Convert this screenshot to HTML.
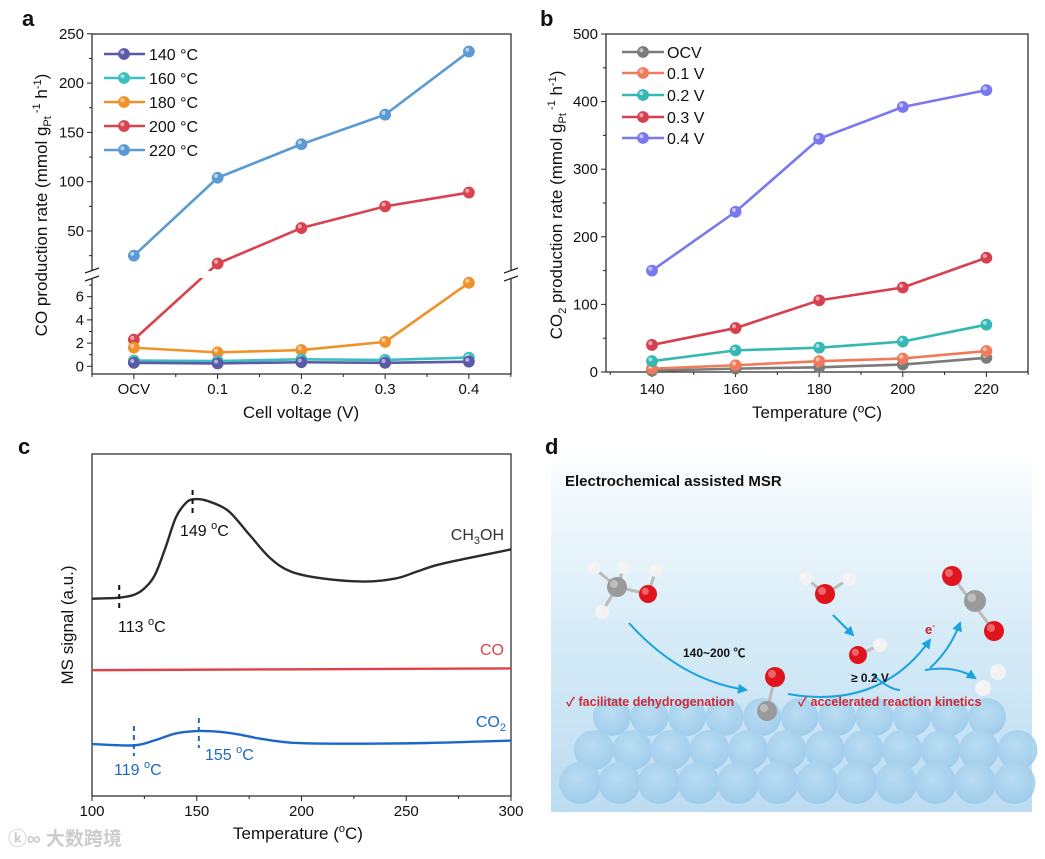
<!DOCTYPE html>
<html><head><meta charset="utf-8"><style>
body{margin:0;background:#fff}
svg{display:block;font-family:"Liberation Sans","Noto Sans CJK SC",sans-serif}
</style></head><body>
<svg id="fig" width="1045" height="859" viewBox="0 0 1045 859" xmlns="http://www.w3.org/2000/svg">
<defs>
<linearGradient id="bgd" x1="0" y1="0" x2="0" y2="1"><stop offset="0" stop-color="#fbfdfe"/><stop offset="0.5" stop-color="#d6ebf7"/><stop offset="1" stop-color="#bcdcf1"/></linearGradient>
<radialGradient id="ball" cx="0.45" cy="0.4" r="0.65"><stop offset="0" stop-color="#b8dcf3"/><stop offset="0.8" stop-color="#9fcdec"/><stop offset="1" stop-color="#93c6e9"/></radialGradient>
<marker id="arr" viewBox="0 0 10 10" refX="8" refY="5" markerWidth="5" markerHeight="5" orient="auto"><path d="M0,0L10,5L0,10z" fill="#1aa3dc"/></marker>
</defs>
<g id="pa"></g>
<g id="pb"></g>
<g id="pc"></g>
<g id="pd"></g>
</svg>
<script>
// ---- Panel a data ----
const aCats = ["OCV","0.1","0.2","0.3","0.4"];
const aSeriesNames = ["140 °C","160 °C","180 °C","200 °C","220 °C"];
const a140 = [0.3,0.25,0.35,0.3,0.4];
const a160 = [0.5,0.45,0.6,0.55,0.75];
const a180 = [1.6,1.2,1.4,2.1,7.2];
const a200 = [2.3,17,53,75,89];
const a220 = [25,104,138,168,232];
const aUpperTicks = [50,100,150,200,250];
const aLowerTicks = [0,2,4,6];
// ---- Panel b data ----
const bTemps = [140,160,180,200,220];
const bSeriesNames = ["OCV","0.1 V","0.2 V","0.3 V","0.4 V"];
const bOCV = [2,5,7,11,21];
const b01 = [5,10,16,20,31];
const b02 = [16,32,36,45,70];
const b03 = [40,65,106,125,169];
const b04 = [150,237,345,392,417];
const bYTicks = [0,100,200,300,400,500];
const bXTicks = [140,160,180,200,220];
// ---- Panel c data ----
const cMeOHT = [100,113,120,125,130,135,140,145,149,155,165,175,185,195,210,230,245,255,265,280,300];
const cMeOH = [57.7,58.0,58.8,60.7,64.6,72.5,81.4,85.8,86.8,86.3,83.4,76.5,69.6,65.6,63.6,62.7,63.6,65.6,67.6,69.6,72.1];
const cCOT = [100,300];
const cCO = [36.8,37.3];
const cCO2T = [100,120,130,140,150,160,170,180,195,220,260,300];
const cCO2 = [15.2,14.8,16.3,18.3,19.0,18.8,18.0,16.8,15.6,15.3,15.5,16.2];
const cXTicks = [100,150,200,250,300];

const NS="http://www.w3.org/2000/svg";
function mk(parent,tag,attrs,text){const e=document.createElementNS(NS,tag);for(const k in attrs)e.setAttribute(k,attrs[k]);if(text!==undefined)e.textContent=text;parent.appendChild(e);return e;}
function marker(g,x,y,c){
  const m=mk(g,'circle',{cx:x,cy:y,r:5.5,fill:c,stroke:c,'stroke-width':0.8});
  
  
  const h=mk(g,'circle',{cx:x-1.6,cy:y-1.8,r:2,fill:'#fff','fill-opacity':0.55});
  
  
}
function txt(g,x,y,s,opt){opt=opt||{};return mk(g,'text',Object.assign({x:x,y:y,'font-size':15,fill:'#111'},opt),s);}

// ================= PANEL A =================
(function(){
const g=document.getElementById('pa');
const L=92,R=511,T=34,B=374;
const xa=i=>L+(i+0.5)*83.75;
const ya=v=> v<=8 ? 366.3-v*11.6 : 231-(v-50)*0.986;
const lbl=txt(g,22,26,'a',{'font-size':22,'font-weight':'bold'});

const fr=mk(g,'rect',{x:L,y:T,width:R-L,height:B-T,fill:'none',stroke:'#222','stroke-width':1.2});

aUpperTicks.forEach(v=>{mk(g,'line',{x1:L-5,x2:L,y1:ya(v),y2:ya(v),stroke:'#222'});
  const t=txt(g,L-8,ya(v)+5,String(v),{'text-anchor':'end'});
  if(v<250)mk(g,'line',{x1:L-3,x2:L,y1:ya(v+25),y2:ya(v+25),stroke:'#222'});});
mk(g,'line',{x1:L-3,x2:L,y1:ya(25),y2:ya(25),stroke:'#222'});
aLowerTicks.forEach(v=>{mk(g,'line',{x1:L-5,x2:L,y1:ya(v),y2:ya(v),stroke:'#222'});
  const t=txt(g,L-8,ya(v)+5,String(v),{'text-anchor':'end'});
  mk(g,'line',{x1:L-3,x2:L,y1:ya(v+1),y2:ya(v+1),stroke:'#222'});});
aCats.forEach((c,i)=>{mk(g,'line',{x1:xa(i),x2:xa(i),y1:B,y2:B+5,stroke:'#222'});
  mk(g,'line',{x1:xa(i)+41.9,x2:xa(i)+41.9,y1:B,y2:B+3,stroke:'#222'});
  const t=txt(g,xa(i),B+20,c,{'text-anchor':'middle'});});
mk(g,'line',{x1:xa(0)-41.9,x2:xa(0)-41.9,y1:B,y2:B+3,stroke:'#222'});
const series=[a140,a160,a180,a200,a220];const cols=['#5b5aa6','#3cbfc0','#f0922c','#d8434f','#5a9bd5'];
[4,3,2,1,0].forEach(k=>{
  const pts=series[k].map((v,i)=>xa(i)+','+ya(v)).join(' ');
  const pl=mk(g,'polyline',{points:pts,fill:'none',stroke:cols[k],'stroke-width':2.6});
  
});
const gap=mk(g,'rect',{x:L-8,y:271,width:R-L+16,height:7,fill:'#fff'});

[L,R].forEach(x=>{mk(g,'line',{x1:x-7,y1:273,x2:x+7,y2:268,stroke:'#222','stroke-width':1.2});mk(g,'line',{x1:x-7,y1:281,x2:x+7,y2:276,stroke:'#222','stroke-width':1.2});});
[4,3,2,1,0].forEach(k=>series[k].forEach((v,i)=>marker(g,xa(i),ya(v),cols[k])));
const ly=[54,78,102,126,150];
aSeriesNames.forEach((n,k)=>{mk(g,'line',{x1:104,x2:145,y1:ly[k],y2:ly[k],stroke:cols[k],'stroke-width':2.6});marker(g,124,ly[k],cols[k]);
  const t=txt(g,149,ly[k]+6,n,{'font-size':16});});
const xt=txt(g,301,418,'Cell voltage (V)',{'font-size':17,'text-anchor':'middle'});
const yt=mk(g,'text',{transform:'translate(47,205) rotate(-90)','font-size':17,'text-anchor':'middle',fill:'#111'});

yt.innerHTML='CO production rate (mmol g<tspan font-size="11" dy="4">Pt</tspan><tspan font-size="11" dy="-11"> -1</tspan><tspan dy="7"> h</tspan><tspan font-size="11" dy="-6">-1</tspan><tspan dy="6">)</tspan>';
})();

// ================= PANEL B =================
(function(){
const g=document.getElementById('pb');
const L=606,R=1028,T=34,B=372;
const xb=t=>L+(t-129)*4.18;
const yb=v=>B-v*0.676;
const lbl=txt(g,540,26,'b',{'font-size':22,'font-weight':'bold'});

const fr=mk(g,'rect',{x:L,y:T,width:R-L,height:B-T,fill:'none',stroke:'#222','stroke-width':1.2});

bYTicks.forEach(v=>{mk(g,'line',{x1:L-5,x2:L,y1:yb(v),y2:yb(v),stroke:'#222'});
  if(v<500)mk(g,'line',{x1:L-3,x2:L,y1:yb(v+50),y2:yb(v+50),stroke:'#222'});
  const t=txt(g,L-8,yb(v)+5,String(v),{'text-anchor':'end'});});
bXTicks.forEach(v=>{mk(g,'line',{x1:xb(v),x2:xb(v),y1:B,y2:B+5,stroke:'#222'});
  mk(g,'line',{x1:xb(v+10),x2:xb(v+10),y1:B,y2:B+3,stroke:'#222'});
  const t=txt(g,xb(v),B+22,String(v),{'text-anchor':'middle'});});
mk(g,'line',{x1:xb(130),x2:xb(130),y1:B,y2:B+3,stroke:'#222'});
const series=[bOCV,b01,b02,b03,b04];const cols=['#7b7b7b','#f07b5a','#35b8b4','#d6404f','#7b78ee'];
[0,1,2,3,4].forEach(k=>{
  const pts=series[k].map((v,i)=>xb(bTemps[i])+','+yb(v)).join(' ');
  const pl=mk(g,'polyline',{points:pts,fill:'none',stroke:cols[k],'stroke-width':2.6});
  
  series[k].forEach((v,i)=>marker(g,xb(bTemps[i]),yb(v),cols[k]));
});
const ly=[52,73,95,117,138];
bSeriesNames.forEach((n,k)=>{mk(g,'line',{x1:622,x2:664,y1:ly[k],y2:ly[k],stroke:cols[k],'stroke-width':2.6});marker(g,643,ly[k],cols[k]);
  const t=txt(g,667,ly[k]+6,n,{'font-size':16});});
const xt=txt(g,817,418,'Temperature (ºC)',{'font-size':17,'text-anchor':'middle'});
const yt=mk(g,'text',{transform:'translate(562,205) rotate(-90)','font-size':17,'text-anchor':'middle',fill:'#111'});

yt.innerHTML='CO<tspan font-size="11" dy="4">2</tspan><tspan dy="-4"> production rate (mmol g</tspan><tspan font-size="11" dy="4">Pt</tspan><tspan font-size="11" dy="-11"> -1</tspan><tspan dy="7"> h</tspan><tspan font-size="11" dy="-6">-1</tspan><tspan dy="6">)</tspan>';
})();

// ================= PANEL C =================
(function(){
const g=document.getElementById('pc');
const L=92,R=511,T=454,B=796;
const xc=t=>L+(t-100)*(R-L)/200;
const yc=s=>B-s*3.42;
const lbl=txt(g,18,454,'c',{'font-size':22,'font-weight':'bold'});

const fr=mk(g,'rect',{x:L,y:T,width:R-L,height:B-T,fill:'none',stroke:'#222','stroke-width':1.2});

cXTicks.forEach(v=>{mk(g,'line',{x1:xc(v),x2:xc(v),y1:B,y2:B+5,stroke:'#222'});
  if(v<300)mk(g,'line',{x1:xc(v+25),x2:xc(v+25),y1:B,y2:B+3,stroke:'#222'});
  const t=txt(g,xc(v),B+20,String(v),{'text-anchor':'middle'});});
function smooth(P){let d='M'+P[0][0]+','+P[0][1];
  for(let i=0;i<P.length-1;i++){const p0=P[i-1]||P[i],p1=P[i],p2=P[i+1],p3=P[i+2]||p2;
    const c1=[p1[0]+(p2[0]-p0[0])/6,p1[1]+(p2[1]-p0[1])/6],c2=[p2[0]-(p3[0]-p1[0])/6,p2[1]-(p3[1]-p1[1])/6];
    d+=' C'+c1[0]+','+c1[1]+' '+c2[0]+','+c2[1]+' '+p2[0]+','+p2[1];}
  return d;}
function curve(T_,S,col,name){const P=T_.map((t,i)=>[xc(t),yc(S[i])]);
  const pl=mk(g,'path',{d:smooth(P),fill:'none',stroke:col,'stroke-width':2.4,'stroke-linejoin':'round'});
  }
curve(cMeOHT,cMeOH,'#2b2b2b','ch3oh-curve');
curve(cCOT,cCO,'#e0404a','co-curve');
curve(cCO2T,cCO2,'#1f66c9','co2-curve');
function dash(x,y1,y2,col){const l=mk(g,'line',{x1:x,x2:x,y1:y1,y2:y2,stroke:col,'stroke-width':2,'stroke-dasharray':'5,4'});}
dash(xc(113),585,612,'#111');dash(xc(148),490,514,'#111');dash(xc(120),726,756,'#1f66c9');dash(xc(151),718,748,'#1f66c9');
function lab(x,y,s,col,anchor,name){const t=txt(g,x,y,'',{'font-size':16,fill:col,'text-anchor':anchor||'start'});t.innerHTML=s;}
lab(118,632,'113 <tspan font-size="11" dy="-7">o</tspan><tspan dy="7">C</tspan>','#111','start','annotation-113');
lab(180,536,'149 <tspan font-size="11" dy="-7">o</tspan><tspan dy="7">C</tspan>','#111','start','annotation-149');
lab(114,775,'119 <tspan font-size="11" dy="-7">o</tspan><tspan dy="7">C</tspan>','#1f66c9','start','annotation-119');
lab(205,760,'155 <tspan font-size="11" dy="-7">o</tspan><tspan dy="7">C</tspan>','#1f66c9','start','annotation-155');
lab(504,540,'CH<tspan font-size="11" dy="4">3</tspan><tspan dy="-4">OH</tspan>','#333','end','ch3oh-label');
lab(504,655,'CO','#e0404a','end','co-label');
lab(506,727,'CO<tspan font-size="11" dy="4">2</tspan>','#1f66c9','end','co2-label');
const xt=txt(g,298,839,'',{'font-size':17,'text-anchor':'middle'});xt.innerHTML='Temperature (<tspan font-size="11" dy="-7">o</tspan><tspan dy="7">C)</tspan>';

const yt=txt(g,0,0,'MS signal (a.u.)',{'font-size':17,'text-anchor':'middle',transform:'translate(73,625) rotate(-90)'});

const wm=txt(g,8,845,'ⓚ∞ 大数跨境',{'font-size':19,fill:'#ccc','font-weight':'bold'});

})();

// ================= PANEL D =================
(function(){
const g=document.getElementById('pd');
const lbl=txt(g,545,454,'d',{'font-size':22,'font-weight':'bold'});

const bg=mk(g,'rect',{x:551,y:457,width:481,height:355,fill:'url(#bgd)'});

const surf=mk(g,'g',{opacity:0.85});
for(let i=0;i<11;i++)mk(surf,'circle',{cx:612+i*37.5,cy:717,r:19,fill:'url(#ball)'});
for(let i=0;i<12;i++)mk(surf,'circle',{cx:594+i*38.5,cy:750,r:20,fill:'url(#ball)'});
for(let i=0;i<12;i++)mk(surf,'circle',{cx:580+i*39.5,cy:783,r:21,fill:'url(#ball)'});
const t1=txt(g,565,486,'Electrochemical assisted MSR',{'font-size':15,'font-weight':'bold'});

function arrow(d,name){const p=mk(g,'path',{d:d,fill:'none',stroke:'#1aa3dc','stroke-width':2,'marker-end':'url(#arr)'});}
arrow('M629,623 Q680,680 746,690','arrow-dehydrogenation');
arrow('M833,615 L853,635','arrow-water-oh');
arrow('M788,694 Q880,710 930,640','arrow-electron');
arrow('M930,668 Q950,650 960,623','arrow-co2');
arrow('M925,670 Q955,665 975,678','arrow-h2');
mk(g,'path',{d:'M873,675 Q890,690 900,690',fill:'none',stroke:'#1aa3dc','stroke-width':2});
function atom(x,y,r,c){const a=mk(g,'circle',{cx:x,cy:y,r:r,fill:c});
  mk(g,'circle',{cx:x-r*0.3,cy:y-r*0.3,r:r*0.4,fill:'#fff','fill-opacity':0.35});}
function bond(x1,y1,x2,y2){mk(g,'line',{x1:x1,y1:y1,x2:x2,y2:y2,stroke:'#bbb','stroke-width':3});}
const R_='#e0141c',Gy='#9a9a9a',W='#f2f2f2';
bond(617,587,594,568);bond(617,587,624,567);bond(617,587,602,612);bond(617,587,648,594);bond(648,594,656,570);
atom(594,568,7,W);atom(624,567,7,W);atom(656,570,7,W);atom(602,612,7,W);atom(617,587,10,Gy);atom(648,594,9,R_);
bond(825,594,806,578);bond(825,594,849,579);atom(806,578,7,W);atom(849,579,7,W);atom(825,594,10,R_);
bond(858,655,880,645);atom(880,645,7,W);atom(858,655,9,R_);
bond(775,677,767,711);atom(775,677,10,R_);atom(767,711,10,Gy);
bond(952,576,994,631);atom(952,576,10,R_);atom(994,631,10,R_);atom(975,601,11,Gy);
atom(998,672,8,W);atom(983,688,8,W);
const ta=txt(g,683,657,'140~200 ℃',{'font-size':12,'font-weight':'bold'});
const tb=txt(g,851,682,'≥ 0.2 V',{'font-size':12,'font-weight':'bold'});
const te=txt(g,925,634,'',{'font-size':13,'font-weight':'bold',fill:'#d0202a'});te.innerHTML='e<tspan font-size="8" dy="-6">-</tspan>';

const r1=txt(g,566,706,'✓ facilitate dehydrogenation',{'font-size':12.5,'font-weight':'bold',fill:'#d02a35'});

const r2=txt(g,798,706,'✓ accelerated reaction kinetics',{'font-size':12.5,'font-weight':'bold',fill:'#d02a35'});

})();
</script>
</body></html>
